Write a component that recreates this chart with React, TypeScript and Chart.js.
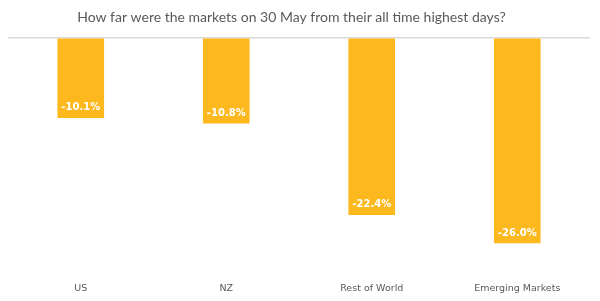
import React, { useEffect, useRef } from "react";
import { Chart, registerables } from "chart.js";

Chart.register(...registerables);

const categories = ["US", "NZ", "Rest of World", "Emerging Markets"];
const values = [-10.1, -10.8, -22.4, -26.0];
const titleText = "How far were the markets on 30 May from their all time highest days?";

const labelPlugin = {
  id: "barLabels",
  afterDatasetsDraw(chart: any) {
    const ctx = chart.ctx;
    const meta = chart.getDatasetMeta(0);
    ctx.save();
    ctx.textAlign = "center";
    ctx.textBaseline = "middle";
    meta.data.forEach((bar: any, i: number) => {
      const v = values[i];
      ctx.fillStyle = "#ffffff";
      ctx.font = "bold 10px 'DejaVu Sans'";
      ctx.fillText(v.toFixed(1) + "%", bar.x, bar.y - 10);
      ctx.fillStyle = "#595959";
      ctx.font = "9.5px 'DejaVu Sans'";
      ctx.fillText(categories[i], bar.x, 289);
    });
    ctx.fillStyle = "#595959";
    ctx.font = "14px Lato";
    ctx.fillText(titleText, 291.5, 17);
    ctx.restore();
  },
};

export default function App() {
  const ref = useRef<HTMLCanvasElement>(null);
  useEffect(() => {
    if (!ref.current) return;
    const chart = new Chart(ref.current, {
      type: "bar",
      data: {
        labels: categories,
        datasets: [
          {
            data: values,
            backgroundColor: "#FDB81E",
            barThickness: 46,
          },
        ],
      },
      options: {
        animation: false,
        responsive: false,
        layout: { padding: { left: 8, right: 10, top: 38, bottom: 26.5 } },
        plugins: {
          legend: { display: false },
          tooltip: { enabled: false },
          title: { display: false },
        },
        scales: {
          x: {
            display: false,
          },
          y: {
            min: -30,
            max: 0,
            ticks: { display: false, stepSize: 10 },
            border: { display: false },
            grid: {
              drawTicks: false,
              lineWidth: 1.5,
              color: (c: any) => (c.tick && c.tick.value === 0 ? "#d9d9d9" : "rgba(0,0,0,0)"),
            },
          },
        },
      },
      plugins: [labelPlugin],
    });
    return () => chart.destroy();
  }, []);
  return (
    <div style={{ position: "fixed", left: 0, top: 0, width: 600, height: 301, background: "#fff" }}>
      <canvas ref={ref} width={600} height={301} style={{ width: 600, height: 301 }} />
    </div>
  );
}
